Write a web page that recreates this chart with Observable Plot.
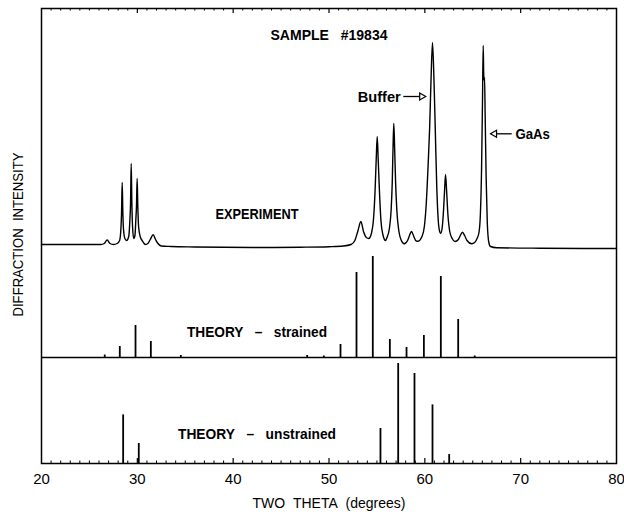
<!DOCTYPE html>
<html>
<head>
<meta charset="utf-8">
<script src="https://cdn.jsdelivr.net/npm/d3@7"></script>
<script src="https://cdn.jsdelivr.net/npm/@observablehq/plot@0.6"></script>
<style>
  html, body { margin: 0; padding: 0; background: #fff; }
</style>
</head>
<body>
<div id="chart"></div>
<script>
// ---------- data ----------
// Experimental pattern: two-theta (deg) and intensity above the trace's baseline
const expTheta = [
  20, 26.2, 26.55, 26.85, 27.15, 27.5, 27.9,
  28.15, 28.3, 28.35, 28.42, 28.49, 28.55, 28.7, 28.88,
  29.1, 29.22, 29.29, 29.36, 29.43, 29.5, 29.62,
  29.75, 29.85, 29.91, 29.98, 30.05, 30.13, 30.3, 30.5, 30.85,
  31.1, 31.35, 31.65, 31.9, 32.15, 32.5, 33.5, 36, 42, 47, 50,
  51.5, 52.3, 52.7, 53.0, 53.33, 53.6, 53.9, 54.15,
  54.45, 54.65, 54.8, 54.93, 55.03, 55.13, 55.27, 55.42, 55.62, 55.9,
  56.05, 56.3, 56.48, 56.6, 56.68, 56.76, 56.85, 56.95, 57.08, 57.28, 57.55, 57.85,
  58.2, 58.4, 58.61, 58.85, 59.1, 59.3,
  59.7, 59.95, 60.15, 60.35, 60.5, 60.65, 60.8, 60.95, 61.1, 61.25, 61.4, 61.55, 61.66,
  61.8, 61.95, 62.06, 62.16, 62.27, 62.4, 62.6, 62.85, 63.15,
  63.5, 63.7, 63.93, 64.15, 64.4, 64.9,
  65.2, 65.45, 65.65, 65.8, 65.92, 66.02, 66.09, 66.15, 66.2, 66.23, 66.3, 66.4, 66.52, 66.68, 66.85,
  67.5, 72, 80
];
const expIntensity = [
  4, 4, 5, 8.5, 5, 4, 5,
  8, 22, 35, 66, 35, 20, 10, 8,
  12, 28, 45, 85, 45, 22, 10,
  13, 30, 42, 70, 42, 22, 12, 8, 4,
  5, 9, 13.7, 9, 5, 2.5, 2, 1.5, 1, 1.3, 1.8,
  2.5, 4, 8, 17, 27, 17, 11, 10,
  16, 30, 56, 90, 112, 90, 56, 28, 14, 8,
  11, 20, 38, 66, 100, 125, 100, 66, 38, 18, 8, 4.7,
  8, 13, 17, 12, 7.5, 7.3,
  12, 22, 45, 85, 120, 170, 206, 170, 115, 60, 28, 17, 15.3,
  20, 38, 58, 74, 58, 35, 17, 10, 7,
  9, 13, 16.3, 13, 8, 4.7,
  6, 10, 16, 35, 80, 150, 203, 172, 168, 171, 130, 70, 25, 6, 2,
  0.8, 0.3, 0
];

// Theory (strained): line positions and heights
const strainedTheta = [26.6, 28.17, 29.81, 31.41, 34.54, 47.72, 49.46, 51.2, 52.87, 54.57, 56.35, 58.09, 59.9, 61.67, 63.48, 65.2];
const strainedIntensity = [2.5, 11, 32, 16, 2, 2, 1.5, 13, 85, 101, 18, 10, 22, 81, 38, 1.5];

// Theory (unstrained): line positions and heights
const unstrainedTheta = [28.52, 30.15, 55.37, 57.22, 58.92, 60.8, 62.54];
const unstrainedIntensity = [48.6, 20, 35, 100, 90, 58.6, 9];

// Axis tick labels
const xTickLabels = [20, 30, 40, 50, 60, 70, 80];

// ---------- layout ----------
const W = 624, H = 512;
const mL = 41, mR = 8, mT = 8, mB = 49;
const EXP_OFFSET = 215;       // experiment trace baseline
const STRAINED_OFFSET = 106;  // strained theory baseline
const UNSTRAINED_OFFSET = 0;  // unstrained theory baseline
const Y_TOP = H - mT - mB;    // 455 data units = frame height

const FONT = "'Liberation Sans', Arial, Helvetica, sans-serif";
const px2x = px => 20 + (px - mL) * 60 / (W - mL - mR);
const px2y = py => (H - mB) - py;
const sp = n => "\u00a0".repeat(n);

const expData = expTheta.map((t, i) => ({t, v: expIntensity[i] + EXP_OFFSET}));
const strainedData = strainedTheta.map((t, i) => ({t, v: strainedIntensity[i]}));
const unstrainedData = unstrainedTheta.map((t, i) => ({t, v: unstrainedIntensity[i]}));

const minorTicks = d3.range(21, 80).filter(d => d % 10 !== 0);
const majorTicks = [30, 40, 50, 60, 70];

const T_SAMPLE = "SAMPLE" + sp(3) + "#19834";
const T_EXP = "EXPERIMENT";
const T_STR = "THEORY" + sp(3) + "\u2013" + sp(3) + "strained";
const T_UNS = "THEORY" + sp(3) + "\u2013" + sp(3) + "unstrained";
const T_BUF = "Buffer";
const T_GAAS = "GaAs";
const T_XLAB = "TWO" + sp(2) + "THETA" + sp(2) + "(degrees)";
const T_YLAB = "DIFFRACTION" + sp(2) + "INTENSITY";

const labels = [
  {x: px2x(328.5), y: px2y(35), text: T_SAMPLE},
  {x: px2x(256.5), y: px2y(214), text: T_EXP},
  {x: px2x(256.5), y: px2y(331.8), text: T_STR},
  {x: px2x(256.5), y: px2y(433.3), text: T_UNS},
  {x: px2x(378.7), y: px2y(96.7), text: T_BUF},
  {x: px2x(532.2), y: px2y(133.3), text: T_GAAS}
];
// target rendered widths of the labels (px) in the reference
const textWidths = new Map([
  [T_SAMPLE, 117], [T_EXP, 83], [T_STR, 140], [T_UNS, 158],
  [T_BUF, 43], [T_GAAS, 34.5], [T_XLAB, 153], [T_YLAB, 164]
]);

const chart = Plot.plot({
  width: W,
  height: H,
  marginLeft: mL,
  marginRight: mR,
  marginTop: mT,
  marginBottom: mB,
  style: {fontFamily: FONT, background: "white", color: "black"},
  x: {domain: [20, 80]},
  y: {domain: [0, Y_TOP], axis: null},
  marks: [
    Plot.axisX({ticks: xTickLabels, tickSize: 0, tickPadding: 10, fontSize: 15, label: null, tickFormat: d => String(d)}),
    // inner tick marks on bottom and top
    Plot.ruleX(minorTicks, {y1: 0, y2: 2.5, stroke: "black", strokeWidth: 1}),
    Plot.ruleX(majorTicks, {y1: 0, y2: 5, stroke: "black", strokeWidth: 1.2}),
    Plot.ruleX(minorTicks, {y1: Y_TOP, y2: Y_TOP - 2.5, stroke: "black", strokeWidth: 1}),
    Plot.ruleX(majorTicks, {y1: Y_TOP, y2: Y_TOP - 5, stroke: "black", strokeWidth: 1.2}),
    // strained baseline
    Plot.ruleY([STRAINED_OFFSET], {stroke: "black", strokeWidth: 1.5}),
    // theory sticks
    Plot.ruleX(strainedData, {x: "t", y1: STRAINED_OFFSET, y2: d => STRAINED_OFFSET + d.v, stroke: "black", strokeWidth: 1.8}),
    Plot.ruleX(unstrainedData, {x: "t", y1: UNSTRAINED_OFFSET, y2: d => UNSTRAINED_OFFSET + d.v, stroke: "black", strokeWidth: 1.8}),
    // experiment
    Plot.line(expData, {x: "t", y: "v", curve: "monotone-x", stroke: "black", strokeWidth: 1.4, strokeLinejoin: "round"}),
    // arrows
    Plot.ruleY([px2y(96)], {x1: px2x(403.3), x2: px2x(419.5), stroke: "black", strokeWidth: 1.3}),
    Plot.dot([0], {x: px2x(421.2), y: px2y(96), symbol: "triangle", r: 2.6, rotate: 90, fill: "white", stroke: "black", strokeWidth: 1.2}),
    Plot.ruleY([px2y(133.3)], {x1: px2x(496), x2: px2x(511.7), stroke: "black", strokeWidth: 1.3}),
    Plot.dot([0], {x: px2x(494), y: px2y(133.3), symbol: "triangle", r: 2.6, rotate: -90, fill: "white", stroke: "black", strokeWidth: 1.2}),
    // labels
    Plot.text(labels, {x: "x", y: "y", text: "text", fontSize: 15.5, fontWeight: "bold", fill: "black"}),
    Plot.text([T_XLAB], {x: 50, y: px2y(502.5), text: d => d, fontSize: 15, fill: "black"}),
    Plot.text([T_YLAB], {x: px2x(18.5), y: px2y(234), text: d => d, rotate: -90, fontSize: 14, fill: "black"}),
    Plot.frame({stroke: "black", strokeWidth: 1.5})
  ]
});
// squeeze the label glyphs to the narrower lettering of the reference
d3.select(chart).selectAll("text").each(function() {
  const w = textWidths.get(this.textContent);
  if (w) d3.select(this).attr("textLength", w).attr("lengthAdjust", "spacingAndGlyphs");
});
document.getElementById("chart").appendChild(chart);
</script>
</body>
</html>
